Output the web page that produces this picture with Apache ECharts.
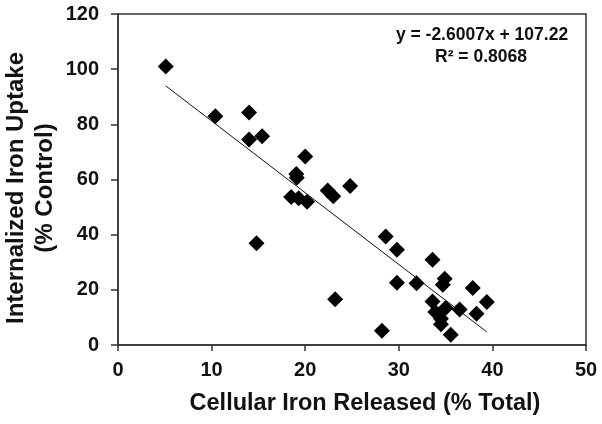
<!DOCTYPE html>
<html>
<head>
<meta charset="utf-8">
<script src="https://cdn.jsdelivr.net/npm/echarts@6/dist/echarts.min.js"></script>
<style>
html,body{margin:0;padding:0;background:#fff;}
#c{width:602px;height:424px;}
</style>
</head>
<body>
<div id="c"></div>
<script>
var xValues = [5.1, 10.4, 14.0, 14.0, 15.4, 20.0, 19.05, 19.1, 18.5, 19.3, 20.2, 22.4, 23.0, 24.8, 14.8, 28.6, 29.8, 33.6, 29.8, 31.9, 34.9, 34.7, 37.9, 23.2, 33.6, 39.4, 35.0, 36.5, 33.9, 38.3, 34.5, 34.5, 28.2, 35.55];
var yValues = [101.0, 82.9, 84.3, 74.5, 75.7, 68.3, 62.0, 60.6, 53.7, 53.2, 51.9, 56.0, 53.9, 57.6, 36.9, 39.3, 34.5, 30.9, 22.6, 22.4, 24.0, 21.8, 20.7, 16.6, 15.8, 15.6, 13.4, 12.9, 12.0, 11.3, 9.5, 7.5, 5.2, 3.7];
var xTicks = [0, 10, 20, 30, 40, 50];
var yTicks = [0, 20, 40, 60, 80, 100, 120];
var slope = -2.6007;
var intercept = 107.22;
var rSquared = 0.8068;

var points = xValues.map(function (x, i) { return [x, yValues[i]]; });
var xMin = Math.min.apply(null, xValues);
var xMax = Math.max.apply(null, xValues);
var trend = [[xMin, slope * xMin + intercept], [xMax, slope * xMax + intercept]];

var font = '"Liberation Sans", Arial, sans-serif';
var chart = echarts.init(document.getElementById('c'));
chart.setOption({
  animation: false,
  backgroundColor: '#fff',
  grid: { left: 118, right: 16, top: 14, bottom: 79, show: true, borderColor: '#333', borderWidth: 1.5, backgroundColor: 'transparent' },
  xAxis: {
    type: 'value', min: xTicks[0], max: xTicks[xTicks.length - 1], interval: 10,
    axisLine: { show: true, onZero: false, lineStyle: { color: '#333', width: 1.5 } },
    axisTick: { show: true, inside: false, length: 6, lineStyle: { color: '#333', width: 1.5 } },
    axisLabel: { color: '#111', fontSize: 20, fontWeight: 'bold', fontFamily: font, margin: 15 },
    splitLine: { show: false }
  },
  yAxis: {
    type: 'value', min: yTicks[0], max: yTicks[yTicks.length - 1], interval: 20,
    axisLine: { show: true, onZero: false, lineStyle: { color: '#333', width: 1.5 } },
    axisTick: { show: true, inside: false, length: 7, lineStyle: { color: '#333', width: 1.5 } },
    axisLabel: { color: '#111', fontSize: 20, fontWeight: 'bold', fontFamily: font, margin: 19 },
    splitLine: { show: false }
  },
  graphic: [
    { type: 'text', x: 31, y: 188, rotation: Math.PI / 2, style: { text: 'Internalized Iron Uptake\n(% Control)', fill: '#111', font: 'bold 24px ' + font, textAlign: 'center', textVerticalAlign: 'middle', lineHeight: 29 } },
    { type: 'text', x: 365, y: 404, style: { text: 'Cellular Iron Released (% Total)', fill: '#111', font: 'bold 23.5px ' + font, textAlign: 'center', textVerticalAlign: 'middle' } },
    { type: 'text', x: 482, y: 35, style: { text: 'y = ' + slope + 'x + ' + intercept, fill: '#111', font: 'bold 17.5px ' + font, textAlign: 'center', textVerticalAlign: 'middle' } },
    { type: 'text', x: 481, y: 57, style: { text: 'R² = ' + rSquared, fill: '#111', font: 'bold 17.5px ' + font, textAlign: 'center', textVerticalAlign: 'middle' } }
  ],
  series: [
    { type: 'line', data: trend, symbol: 'none', lineStyle: { color: '#111', width: 1 }, silent: true, z: 3 },
    { type: 'scatter', data: points, symbol: 'diamond', symbolSize: [16, 16], itemStyle: { color: '#000', opacity: 1 }, z: 2 }
  ]
});
</script>
</body>
</html>
